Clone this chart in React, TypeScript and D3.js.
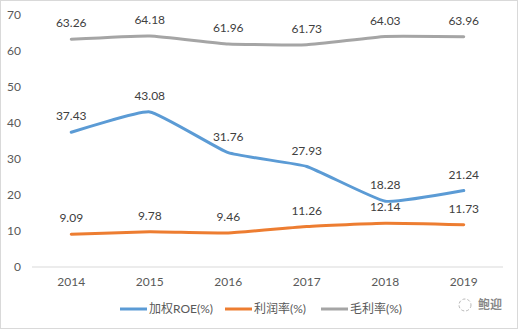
import React from "react";
import * as d3 from "d3";

const years = ["2014", "2015", "2016", "2017", "2018", "2019"];
const roe = [37.43, 43.08, 31.76, 27.93, 18.28, 21.24];
const profit = [9.09, 9.78, 9.46, 11.26, 12.14, 11.73];
const gross = [63.26, 64.18, 61.96, 61.73, 64.03, 63.96];
const yTicks = [0, 10, 20, 30, 40, 50, 60, 70];
const seriesNames = ["加权ROE(%)", "利润率(%)", "毛利率(%)"];
const colors = ["#5B9BD5", "#ED7D31", "#A5A5A5"];

const W = 518;
const H = 329;
const FONT = "Lato, 'Noto Sans CJK SC', sans-serif";

export default function App() {
  const x = d3.scaleBand<string>().domain(years).range([32, 503]);
  const y = d3.scaleLinear().domain([0, 70]).range([267, 15]);
  const cx = (yr: string) => (x(yr) ?? 0) + x.bandwidth() / 2;
  const line = d3
    .line<number>()
    .x((_, i) => cx(years[i]))
    .y((d) => y(d))
    .curve(d3.curveCardinal.tension(0.6));
  const series = [roe, profit, gross];
  const legendX = [120, 225, 321];
  return (
    <svg
      width={W}
      height={H}
      style={{ position: "absolute", left: 0, top: 0, background: "#fff" }}
      fontFamily={FONT}
    >
      <rect x={0.5} y={0.5} width={W - 1} height={H - 1} fill="#fff" stroke="#D9D9D9" />
      {yTicks.map((t) => (
        <g key={t}>
          {t === 0 ? (
            <line x1={32} x2={503} y1={y(t)} y2={y(t)} stroke="#D9D9D9" strokeWidth={1} />
          ) : null}
          <text x={21} y={y(t)} dy="0.35em" textAnchor="end" fontSize={12} fill="#595959">
            {t}
          </text>
        </g>
      ))}
      {years.map((yr) => (
        <text key={yr} x={cx(yr)} y={282} dy="0.35em" textAnchor="middle" fontSize={12} fill="#595959">
          {yr}
        </text>
      ))}
      {series.map((s, k) => (
        <path key={k} d={line(s) ?? ""} fill="none" stroke={colors[k]} strokeWidth={3} strokeLinecap="round" strokeLinejoin="round" />
      ))}
      {series.map((s, k) =>
        s.map((v, i) => (
          <text
            key={`${k}-${i}`}
            x={cx(years[i])}
            y={y(v) - 16}
            dy="0.35em"
            textAnchor="middle"
            fontSize={12}
            fill="#404040"
          >
            {v.toFixed(2)}
          </text>
        ))
      )}
      {seriesNames.map((n, k) => (
        <g key={n}>
          <line x1={legendX[k]} x2={legendX[k] + 27} y1={309} y2={309} stroke={colors[k]} strokeWidth={3} />
          <text x={legendX[k] + 29} y={309} dy="0.35em" fontSize={12} fill="#595959">
            {n}
          </text>
        </g>
      ))}
      <g opacity={0.7}>
        <circle cx={465} cy={305} r={6} fill="none" stroke="#9a9a9a" strokeDasharray="3 2" />
        <text x={478} y={305} dy="0.35em" fontSize={12} fill="#555" fontWeight="bold">
          鲍迎
        </text>
      </g>
    </svg>
  );
}
